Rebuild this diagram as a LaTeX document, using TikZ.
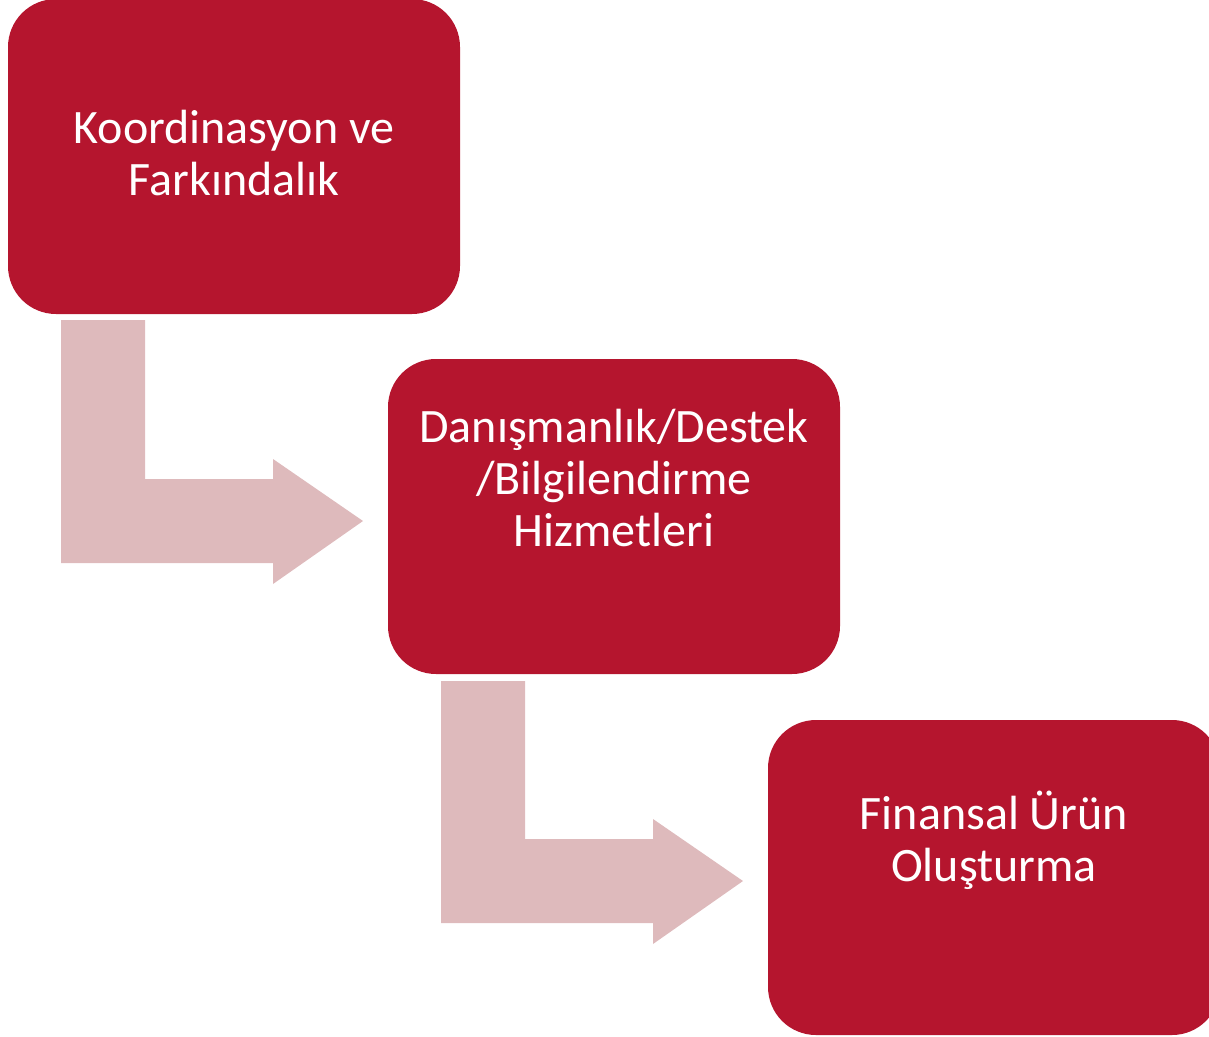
\documentclass[tikz,border=0pt]{standalone}
\usepackage{fontspec}
\setmainfont{Carlito}
\definecolor{boxred}{RGB}{181,21,46}
\definecolor{arrowpink}{RGB}{222,186,188}
\begin{document}
\begin{tikzpicture}[x=1pt,y=-1pt,
  box/.style={draw=none,fill=boxred,rounded corners=48pt,minimum width=452pt,minimum height=315pt,inner sep=0pt},
  lbl/.style={text=white,align=center,inner sep=0pt,anchor=base,font=\fontsize{48}{52}\selectfont},
  bent/.style={fill=arrowpink,draw=none}]
\useasboundingbox (0,0) rectangle (1209,1036);
\clip (0,0) rectangle (1209,1036);
% arrows
\fill[bent] (61,320) -- (145,320) -- (145,479) -- (273,479) -- (273,459) -- (363,521) -- (273,584) -- (273,563) -- (61,563) -- cycle;
\fill[bent] (441,681) -- (525,681) -- (525,839) -- (653,839) -- (653,819) -- (743,881) -- (653,944) -- (653,923) -- (441,923) -- cycle;
% boxes
\node[box] (b1) at (234,156.5) {};
\node[box] (b2) at (614,516.5) {};
\node[box] (b3) at (994,877.5) {};
% labels (anchor base = baseline of the last line)
\node[lbl] (t1) at (234,195) {Koordinasyon ve\\Farkındalık};
\node[lbl] (t2) at (614,546) {Danışmanlık/Destek\\/Bilgilendirme\\Hizmetleri};
\node[lbl] (t3) at (994,881) {Finansal Ürün\\Oluşturma};
\end{tikzpicture}
\end{document}
